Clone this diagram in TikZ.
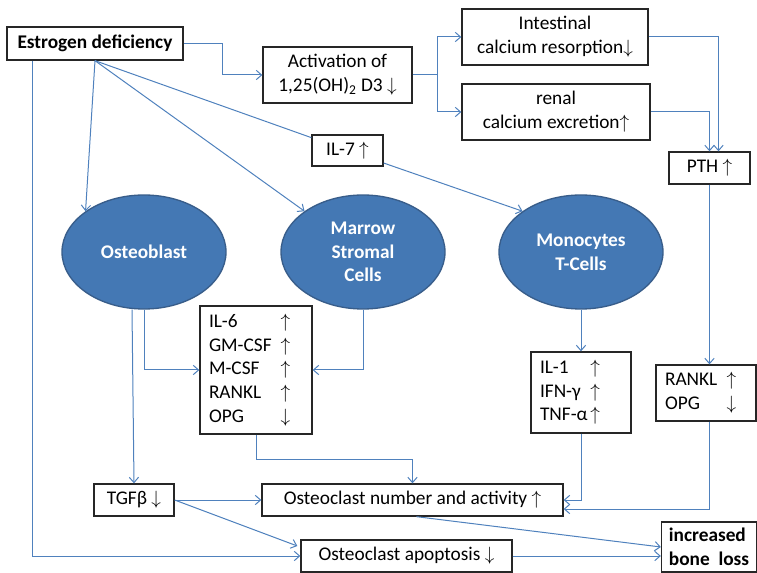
\documentclass[tikz,border=0pt]{standalone}
\usepackage{fontspec}
\setmainfont{Carlito}
\usetikzlibrary{calc,arrows.meta,shapes.geometric}
\definecolor{linkblue}{RGB}{79,129,189}
\definecolor{cellblue}{RGB}{68,120,180}
\definecolor{cellrim}{RGB}{56,93,138}
\newcommand{\diagfont}{\fontsize{14.5pt}{17.8pt}\selectfont}
\tikzset{%
  tbox/.style={draw=black!85,line width=1pt,fill=white,inner sep=0pt,align=center,font=\diagfont},
  lbox/.style={tbox,align=left,inner xsep=6.75pt},
  cell/.style={ellipse,draw=cellrim,line width=1pt,fill=cellblue,text=white,align=center,
    font=\diagfont\bfseries,minimum width=123pt,minimum height=85.5pt,inner sep=0pt},
  cedge/.style={draw=linkblue,line width=0.75pt},
  carrow/.style={cedge,-{Straight Barb[length=4pt,width=7pt]}}
}

\begin{document}
\begin{tikzpicture}[x=0.75pt,y=-0.75pt]
  \useasboundingbox (0,0) rectangle (757,573);
  % top row
  \node[tbox,font=\diagfont\bfseries,minimum width=132pt,minimum height=24.75pt](estro) at (95,43.5) {Estrogen deficiency};
  \node[tbox,minimum width=111.75pt,minimum height=42pt](act) at (337.5,75) {Activation of\\1,25(OH)\textsubscript{2} D3 $\downarrow$};
  \node[tbox,minimum width=139.5pt,minimum height=42pt](intest) at (555,37) {Intestinal\\calcium resorption$\downarrow$};
  \node[tbox,minimum width=141pt,minimum height=42pt](renal) at (556,112) {renal\\calcium excretion$\uparrow$};
  \node[tbox,minimum width=60.75pt,minimum height=24pt](pth) at (709.5,168) {PTH $\uparrow$};
  \node[tbox,minimum width=53.25pt,minimum height=23.25pt](il7) at (347.5,150.5) {IL-7 $\uparrow$};
  % cells
  \node[cell](osteob) at (144,252) {Osteoblast};
  \node[cell](marrow) at (363,252) {Marrow\\Stromal\\Cells};
  \node[cell](mono) at (581,252) {Monocytes\\T-Cells};
  % cytokines
  \node[lbox,text width=70.5pt,minimum height=96pt](il6) at (256,370) {%
    \begin{tabular}{@{}l@{\hspace{6.75pt}}l@{}}
      IL-6 & $\uparrow$\\ GM-CSF & $\uparrow$\\ M-CSF & $\uparrow$\\ RANKL & $\uparrow$\\ OPG & $\downarrow$
    \end{tabular}};
  \node[lbox,text width=61.5pt,minimum height=60.75pt](il1) at (581,392.5) {%
    \begin{tabular}{@{}l@{\hspace{2pt}}l@{}}
      IL-1 & $\uparrow$\\ IFN-γ & $\uparrow$\\ TNF-α & $\uparrow$
    \end{tabular}};
  \node[lbox,text width=61.5pt,minimum height=42pt](rankl) at (706,393) {%
    \begin{tabular}{@{}l@{\hspace{7pt}}l@{}}
      RANKL & $\uparrow$\\ OPG & $\downarrow$
    \end{tabular}};
  % bottom
  \node[tbox,minimum width=60pt,minimum height=24pt](tgf) at (134,500) {TGFβ $\downarrow$};
  \node[tbox,minimum width=225.75pt,minimum height=24pt](ocn) at (412.5,500) {Osteoclast number and activity $\uparrow$};
  \node[tbox,minimum width=158.25pt,minimum height=24pt](apo) at (406.5,556) {Osteoclast apoptosis $\downarrow$};
  \node[tbox,font=\diagfont\bfseries,align=left,minimum width=71.25pt,minimum height=37.5pt](loss) at (709,547) {increased\\bone\ \ loss};

  % connectors
  \draw[carrow] (estro.east) -- ++(39,0) |- (act.west);
  \draw[cedge] (act.east) -- ++(25,0) coordinate (fork);
  \draw[carrow] (fork) |- (intest.west);
  \draw[carrow] (fork) |- (renal.west);
  \draw[carrow] (intest.east) -| ($(pth.north)+(9,0)$);
  \draw[carrow] (renal.east) -| (pth.north);
  \draw[carrow] (pth.south) -- (pth.south |- rankl.north);
  \draw[carrow] (estro.south) -- (osteob.north west);
  \draw[carrow] (estro.south) -- (marrow.north west);
  \draw[cedge] (estro.south) -- (il7);
  \draw[carrow] (il7) -- (mono.north west);
  \draw[carrow] ($(estro.south west)+(26,0)$) |- (apo.west);
  \draw[carrow] (osteob.south) |- (il6.west);
  \draw[carrow] ($(osteob.south)+(-12,0)$) -- (tgf.north);
  \draw[carrow] (marrow.south) |- (il6.east);
  \draw[carrow] (mono.south) -- (il1.north);
  \draw[carrow] (il6.south) -- ++(0,25) -| (ocn.north);
  \draw[carrow] (il1.south) |- (ocn.east);
  \draw[carrow] (pth.south |- rankl.south) |- ($(ocn.east)+(0,9)$);
  \draw[carrow] (tgf.east) -- (ocn.west);
  \draw[carrow] (tgf.east) -- ($(apo.west)+(-3,-10)$);
  \draw[carrow] ($(ocn.south)+(4,0)$) -- (loss.west);
  \draw[carrow] (apo.east) -- (apo.east -| loss.west);
\end{tikzpicture}
\end{document}
